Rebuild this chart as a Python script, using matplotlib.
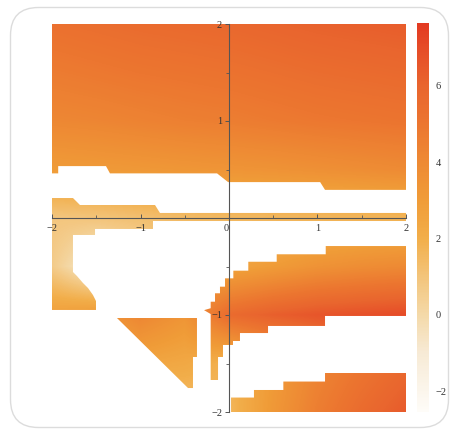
import numpy as np
import matplotlib
matplotlib.use("Agg")
import matplotlib.pyplot as plt
import matplotlib.cm as cm
from matplotlib.colors import LinearSegmentedColormap, Normalize
from matplotlib.path import Path
from matplotlib.patches import PathPatch, FancyBboxPatch
from matplotlib.transforms import IdentityTransform

# sampled surface values on a 0.5 grid (rows from y=2 down to y=-2)
grid_x = [-2.0, -1.5, -1.0, -0.5, 0.0, 0.5, 1.0, 1.5, 2.0]
grid_y = [2.0, 1.5, 1.0, 0.5, 0.0, -0.5, -1.0, -1.5, -2.0]
values = [
    [5.3, 5.45, 5.6, 5.7, 5.8, 5.95, 6.1, 6.2, 6.3],
    [4.7, 4.85, 5.0, 5.1, 5.2, 5.35, 5.5, 5.6, 5.7],
    [4.1, 4.2, 4.35, 4.5, 4.6, 4.75, 4.9, 5.0, 5.1],
    [3.0, 3.1, 3.2, 3.3, 3.4, 3.5, 3.65, 3.8, 3.95],
    [0.9, 1.0, 1.2, 1.4, 1.5, 1.55, 1.6, 1.65, 1.7],
    [0.7, -1.0, 0.0, 2.5, 2.5, 3.0, 3.5, 3.8, 4.0],
    [2.8, 3.2, 4.2, 3.4, 5.6, 6.2, 6.6, 6.8, 7.0],
    [1.5, 2.0, 2.5, 2.3, 1.8, 3.0, 4.2, 5.0, 5.7],
    [0.5, 0.8, 1.0, 1.2, 1.6, 3.2, 4.6, 5.6, 6.4],
]

# outlines of the parts of the domain where the surface is defined
top_region = [(-2.0, 2.0), (2.0, 2.0), (2.0, 0.29), (1.085, 0.29), (1.03, 0.37),
              (-0.01, 0.37), (-0.135, 0.46), (-1.345, 0.46), (-1.39, 0.535),
              (-1.93, 0.535), (-1.93, 0.46), (-2.0, 0.46)]
band_region = [(-2.0, 0.206), (-1.763, 0.206), (-1.684, 0.134), (-0.836, 0.134),
               (-0.78, 0.052), (2.0, 0.052), (2.0, -0.031), (-0.859, -0.031),
               (-0.859, -0.113), (-1.514, -0.113), (-1.514, -0.175), (-1.763, -0.175),
               (-1.763, -0.557), (-1.718, -0.598), (-1.65, -0.67), (-1.593, -0.722),
               (-1.537, -0.794), (-1.503, -0.856), (-1.503, -0.948), (-2.0, -0.948)]
wedge_region = [(-1.266, -1.031), (-0.362, -1.031), (-0.362, -1.433), (-0.407, -1.433),
                (-0.407, -1.753), (-0.463, -1.753)]
middle_region = [(2.0, -0.289), (1.093, -0.289), (1.093, -0.374), (0.539, -0.374),
                 (0.539, -0.451), (0.218, -0.451), (0.218, -0.543), (0.049, -0.543),
                 (0.049, -0.622), (-0.045, -0.622), (-0.045, -0.708), (-0.102, -0.708),
                 (-0.102, -0.776), (-0.158, -0.776), (-0.158, -0.863), (-0.207, -0.863),
                 (-0.207, -0.93), (-0.282, -0.95), (-0.207, -0.99), (-0.207, -1.67),
                 (-0.124, -1.67), (-0.124, -1.433), (-0.068, -1.433), (-0.068, -1.309),
                 (0.045, -1.309), (0.045, -1.268), (0.124, -1.268), (0.124, -1.186),
                 (0.441, -1.186), (0.441, -1.113), (1.085, -1.113), (1.085, -1.01),
                 (2.0, -1.01)]
bottom_region = [(2.0, -1.598), (1.085, -1.598), (1.085, -1.686), (0.614, -1.686),
                 (0.614, -1.773), (0.282, -1.773), (0.282, -1.851), (0.023, -1.851),
                 (0.023, -2.0), (2.0, -2.0)]
regions = [top_region, band_region, wedge_region, middle_region, bottom_region]

x_ticks = [-2, -1, 0, 1, 2]
x_tick_labels = ["\u22122", "\u22121", "0", "1", "2"]
y_ticks = [-2, -1, 1, 2]
y_tick_labels = ["\u22122", "\u22121", "1", "2"]
minor_ticks = [-1.5, -0.5, 0.5, 1.5]
bar_ticks = [-2, 0, 2, 4, 6]
bar_tick_labels = ["\u22122", "0", "2", "4", "6"]

vmin, vmax = -2.55, 7.65
colour_levels = [-2.55, -1, 0, 1, 2, 3, 4, 5, 6, 7, 7.65]
colour_stops = ["#fefcf8", "#f7ead5", "#f4d9a8", "#f3c47a", "#f2ae4a", "#f09c38",
                "#ee8a34", "#ec7630", "#e9652e", "#e64c28", "#e33a22"]

norm = Normalize(vmin=vmin, vmax=vmax)
cmap = LinearSegmentedColormap.from_list(
    "sunrise", [((v - vmin) / (vmax - vmin), c) for v, c in zip(colour_levels, colour_stops)])

plt.rcParams["font.family"] = ["Liberation Serif", "DejaVu Serif"]
axis_col = "#555555"
text_col = "#333333"

fig = plt.figure(figsize=(4.56, 4.32), dpi=100)

# rounded card behind everything (pixel coordinates)
card = FancyBboxPatch((10.5, 4.5), 438, 420, boxstyle="round,pad=0,rounding_size=28",
                      transform=IdentityTransform(), facecolor="white",
                      edgecolor="#dcdcdc", lw=1.0, zorder=-1)
fig.add_artist(card)

ax = fig.add_axes([52 / 456, 20 / 432, 354 / 456, 388 / 432])
ax.set_facecolor("none")

step = 0.25
im = ax.imshow(np.array(values), extent=(grid_x[0] - step, grid_x[-1] + step,
                                         grid_y[-1] - step, grid_y[0] + step),
               origin="upper", cmap=cmap, norm=norm, interpolation="bilinear",
               aspect="auto", zorder=0)


def region_path(poly):
    verts = list(poly) + [poly[0]]
    codes = [Path.MOVETO] + [Path.LINETO] * (len(poly) - 1) + [Path.CLOSEPOLY]
    return Path(verts, codes)


clip = PathPatch(Path.make_compound_path(*[region_path(p) for p in regions]),
                 transform=ax.transData, facecolor="none", edgecolor="none")
im.set_clip_path(clip)

ax.set_xlim(-2, 2)
ax.set_ylim(-2, 2)

for side in ["top", "right"]:
    ax.spines[side].set_visible(False)
for side in ["left", "bottom"]:
    ax.spines[side].set_position(("data", 0))
    ax.spines[side].set_color(axis_col)
    ax.spines[side].set_linewidth(0.8)

ax.set_xticks(x_ticks)
ax.set_xticklabels(x_tick_labels)
ax.set_xticks(minor_ticks, minor=True)
ax.set_yticks(y_ticks)
ax.set_yticklabels(y_tick_labels)
ax.set_yticks(minor_ticks, minor=True)

ax.tick_params(axis="x", which="major", direction="in", length=3, width=0.7,
               color=axis_col, pad=4, labelsize=7.5, labelcolor=text_col)
ax.tick_params(axis="x", which="minor", direction="in", length=2, width=0.6, color=axis_col)
ax.tick_params(axis="y", which="major", direction="out", length=3, width=0.7,
               color=axis_col, pad=2, labelsize=7.5, labelcolor=text_col)
ax.tick_params(axis="y", which="minor", direction="out", length=2, width=0.6, color=axis_col)

# origin label sits just left of the vertical axis
for tick in ax.xaxis.get_major_ticks():
    if tick.get_loc() == 0:
        tick.label1.set_horizontalalignment("right")

cax = fig.add_axes([417 / 456, 20 / 432, 12 / 456, 389 / 432])
cb = fig.colorbar(cm.ScalarMappable(norm=norm, cmap=cmap), cax=cax, ticks=bar_ticks)
cb.set_ticklabels(bar_tick_labels)
cb.outline.set_visible(False)
cax.tick_params(length=0, pad=5, labelsize=7.5, labelcolor=text_col)

fig.savefig("out.png", dpi=100)
